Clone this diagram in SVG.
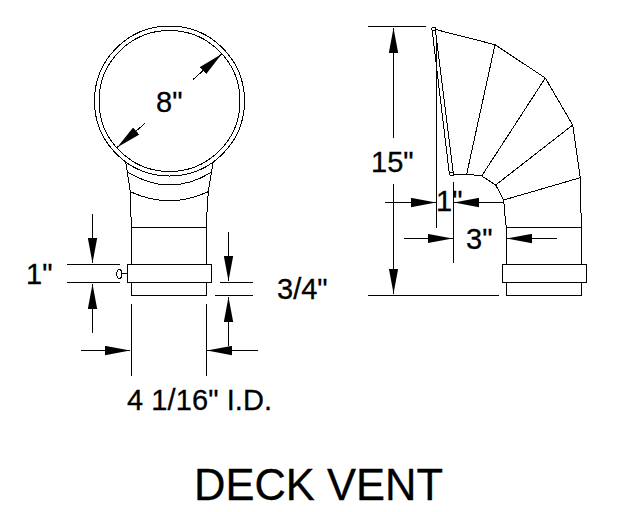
<svg xmlns="http://www.w3.org/2000/svg" width="640" height="512" viewBox="0 0 640 512">
<defs>
<marker id="ah" markerUnits="userSpaceOnUse" markerWidth="25" markerHeight="10" viewBox="0 0 24 9" refX="24" refY="4.5" orient="auto"><polygon points="0,0 24,4.5 0,9" fill="#000"/></marker>
</defs>
<style>
.l,.c,.a{fill:none;stroke:#000;stroke-width:1;shape-rendering:crispEdges}
.w{fill:#fff;stroke:#000;stroke-width:1;shape-rendering:crispEdges}
.a{marker-end:url(#ah)}
text{font-family:"Liberation Sans",Arial,sans-serif;font-size:29px;fill:#000;stroke:#000;stroke-width:.3}
</style>
<rect width="640" height="512" fill="#fff"/>
<g id="front-view">
<circle class="c" cx="169.5" cy="101" r="75"/>
<circle class="c" cx="169.5" cy="101" r="70.5"/>
<path class="c" d="M125.7 161.7L130.3 191.7L131.3 228V295.5H206V228L208.3 191.7L213.3 161.7"/>
<path class="c" d="M127.5 172Q169.5 198 212 172M130.3 191.7Q169.5 209.7 208.3 191.7"/>
<path class="l" d="M131.5 227.5H206.5"/>
<rect class="w" x="127.5" y="264.5" width="84" height="18"/>
<ellipse class="c" cx="119.3" cy="274" rx="2.5" ry="4.5"/>
<path class="l" d="M122 273.5H127.5"/>
</g>
<g id="side-view">
<path class="c" d="M433.7 29L495 44.7L545.3 78L572.7 125L580.3 177.7L581.3 227.3V295.5H506.3V227.3L505.3 220L503.7 200L495.7 185L481.7 176L466.7 174H453.3"/>
<path class="c" d="M495 44.7L466.7 174M545.3 78L481.7 176M572.7 125L495.7 185M580.3 177.7L503.7 200"/>
<path class="l" d="M506.5 227.5H581.5"/>
<rect class="w" x="502.5" y="264.5" width="84" height="18"/>
<path class="c" d="M432 29L449.3 173.3M435.3 29L453.3 173"/>
<circle class="w" cx="433.7" cy="29" r="2"/>
<circle class="w" cx="451.7" cy="174" r="2"/>
</g>
<g id="connectors">
<path class="a" d="M193.3 79.3L221.7 54"/>
<path class="a" d="M145 123.3L117.3 147.3"/>
<path class="l" d="M67 264.5H120M67 282.5H120M219.5 282.5H253M215 295.5H253M131.5 304V375.5M206.5 304V375.5"/>
<path class="a" d="M92.5 214V263"/>
<path class="a" d="M92.5 333V284"/>
<path class="a" d="M228.5 232V281"/>
<path class="a" d="M228.5 346V297"/>
<path class="a" d="M81 350.5H130"/>
<path class="a" d="M257.5 350.5H207"/>
<path class="l" d="M368 26.5H426M368 295.5H498.5M436.5 35V228M453.5 182V263"/>
<path class="a" d="M393.5 138V28"/>
<path class="a" d="M393.5 184V293.5"/>
<path class="a" d="M385 202.5H436"/>
<path class="a" d="M503.5 202.5H454"/>
<path class="a" d="M403.5 238.5H452.5"/>
<path class="a" d="M556.5 238.5H507"/>
</g>
<g id="labels">
<text x="156" y="111.5">8"</text>
<text x="26" y="284">1"</text>
<text x="277" y="299">3/4"</text>
<text x="127" y="410" textLength="145">4 1/16" I.D.</text>
<text x="371" y="172">15"</text>
<text x="436" y="210.5">1"</text>
<text x="466" y="249">3"</text>
<text x="194" y="500" style="font-size:43.5px">DECK VENT</text>
</g>
</svg>
